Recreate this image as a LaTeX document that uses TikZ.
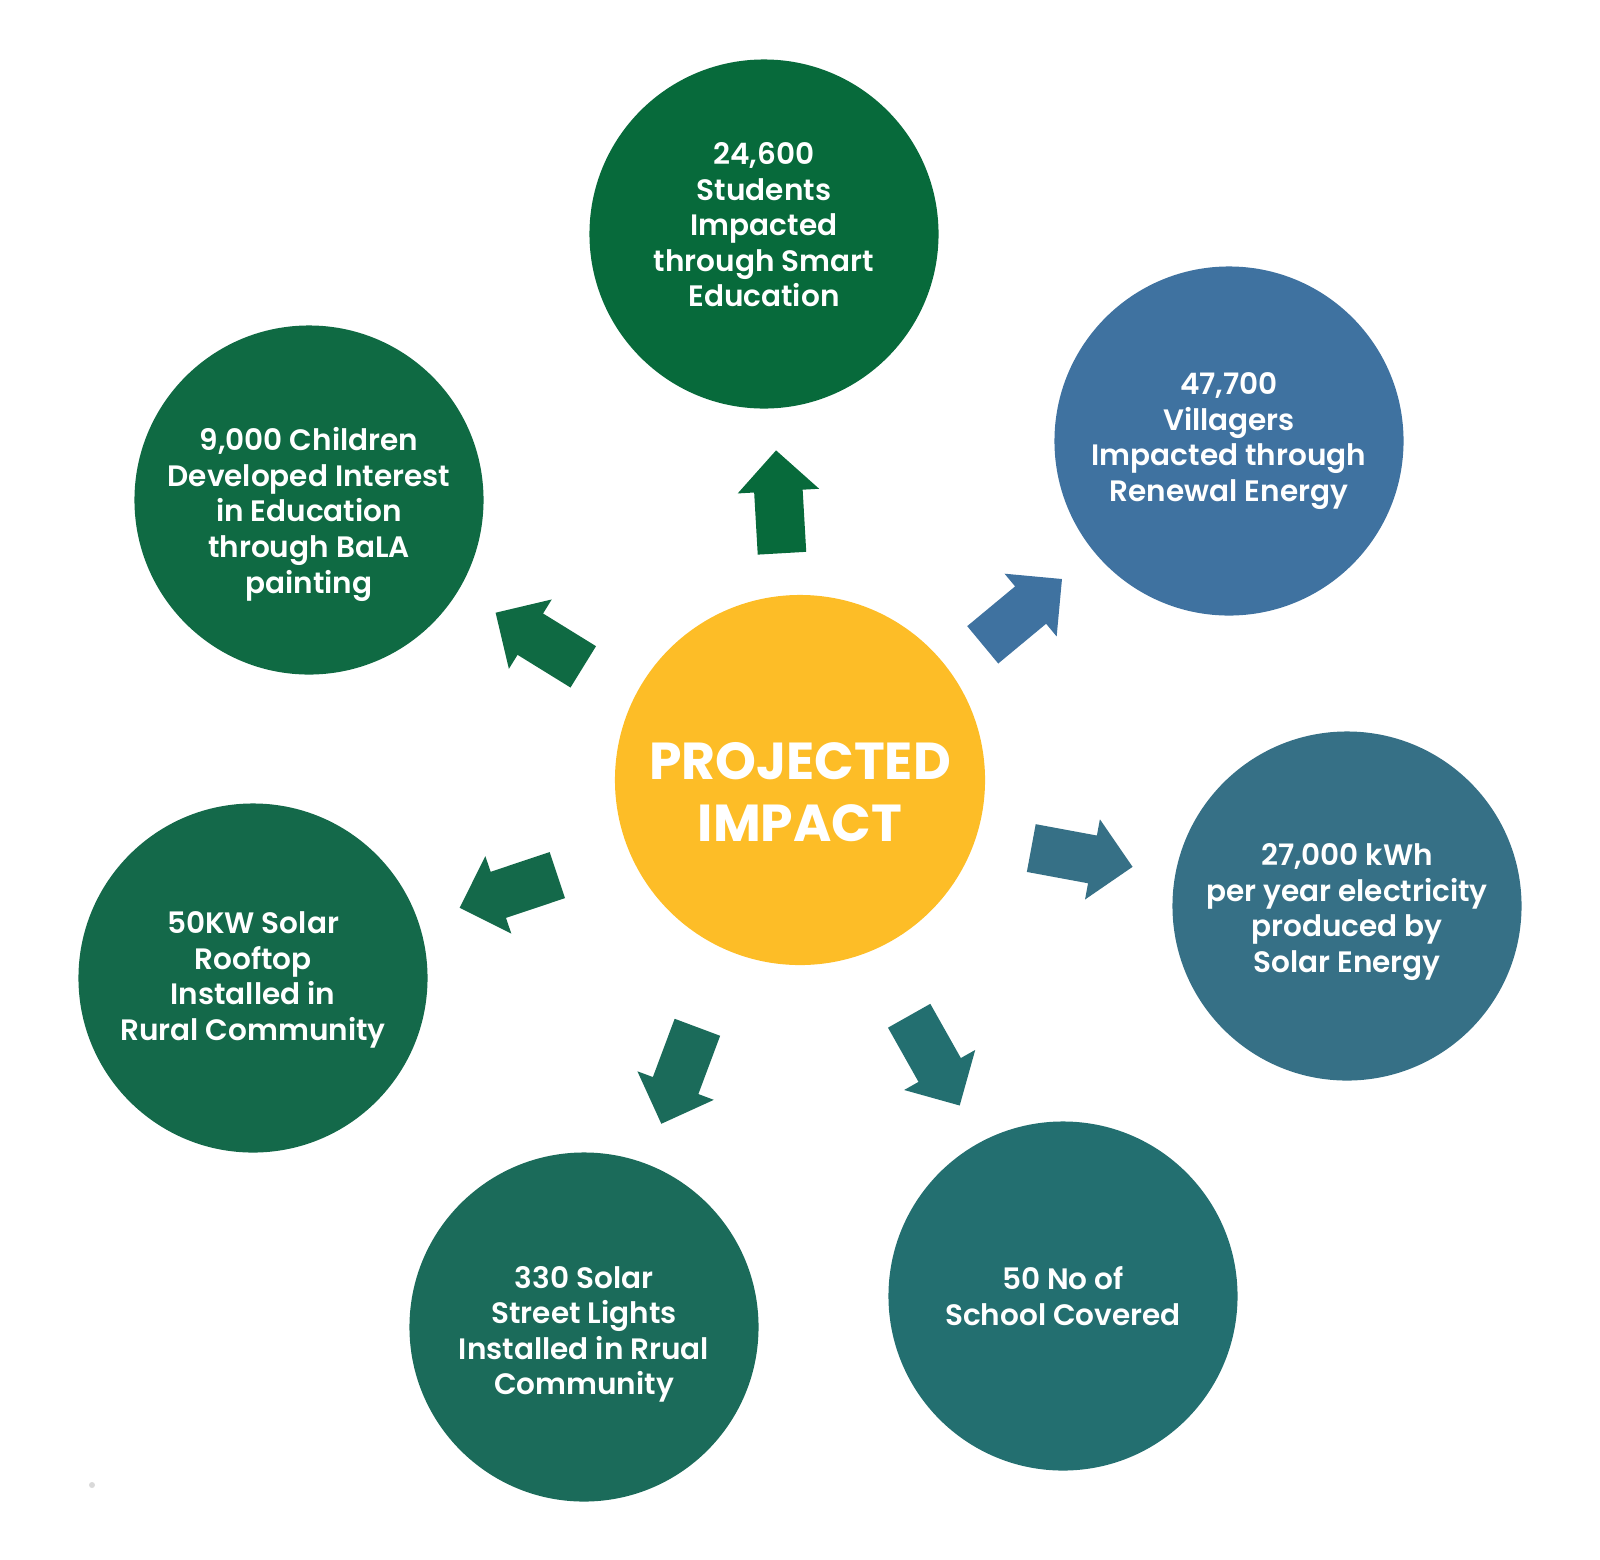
\documentclass[tikz,border=0pt]{standalone}
\usepackage{fontspec}
\setmainfont{Poppins}[BoldFont={* SemiBold}]
\newfontfamily\titlefont{Poppins}[UprightFont={* Bold}]
\usetikzlibrary{shapes.arrows}

\definecolor{sun}{HTML}{FDBD27}
\definecolor{cstud}{HTML}{076A3B}
\definecolor{cvill}{HTML}{3F72A0}
\definecolor{ckwh}{HTML}{367086}
\definecolor{cschool}{HTML}{236F70}
\definecolor{clight}{HTML}{1B6B5A}
\definecolor{croof}{HTML}{14694A}
\definecolor{cchild}{HTML}{0F6A43}
\definecolor{dotgrey}{HTML}{D9D9D9}

\begin{document}
\begin{tikzpicture}
[x=0.025cm,y=-0.025cm
,bn/.style={circle,minimum size=8.725cm,inner sep=0pt}
,bt/.style={text=white,align=center,inner sep=0pt,font=\bfseries\fontsize{21}{25.3}\selectfont}
,hub/.style={circle,fill=sun,minimum size=9.25cm,inner sep=0pt}
,hubtext/.style={text=white,align=center,font=\titlefont\fontsize{37}{43.7}\selectfont}
,ba/.style={single arrow,single arrow head extend=0.4125cm,single arrow tip angle=90,minimum height=2.575cm,inner xsep=0pt,inner ysep=0.6cm,anchor=tail}
]
\useasboundingbox (0,0) rectangle (1600,1560);
\node[hub] (proj) at (800,780) {};
\node[hubtext] (projlabel) at ([yshift=-0.3cm]proj.center) {PROJECTED\\IMPACT};
% outer circles
\node[bn,fill=cstud] (stud) at (764,234) {};
\node[bn,fill=cvill] (vill) at (1229,441) {};
\node[bn,fill=ckwh] (kwh) at (1347,906) {};
\node[bn,fill=cschool] (school) at (1063,1296) {};
\node[bn,fill=clight] (light) at (584,1327) {};
\node[bn,fill=croof] (roof) at (253,978) {};
\node[bn,fill=cchild] (child) at (309,500) {};
% their texts
\node[bt] (studtxt) at ([yshift=0.23cm]stud.center) {24,600\\Students\\Impacted\\through Smart\\Education};
\node[bt] (villtxt) at (vill.center) {47,700\\Villagers\\Impacted through\\Renewal Energy};
\node[bt] (kwhtxt) at ([yshift=-0.15cm]kwh.center) {27,000 kWh\\per year electricity\\produced by\\Solar Energy};
\node[bt] (schooltxt) at (school.center) {50 No of\\School Covered};
\node[bt] (lighttxt) at ([yshift=-0.18cm]light.center) {330 Solar\\Street Lights\\Installed in Rrual\\Community};
\node[bt] (rooftxt) at ([yshift=-0.05cm]roof.center) {50KW Solar\\Rooftop\\Installed in\\Rural Community};
\node[bt] (childtxt) at ([yshift=-0.36cm]child.center) {9,000 Children\\Developed Interest\\in Education\\through BaLA\\painting};
% block arrows
\node[ba,fill=cstud,rotate=93.3] (toStud) at (782,553.5) {};
\node[ba,fill=cvill,rotate=39.7] (toVill) at (982.5,645) {};
\node[ba,fill=ckwh,rotate=-10.5] (toKwh) at (1031,848) {};
\node[ba,fill=cschool,rotate=-60.6] (toSchool) at (909,1015.5) {};
\node[ba,fill=clight,rotate=249.5] (toLight) at (697.5,1027) {};
\node[ba,fill=croof,rotate=198.5] (toRoof) at (557.6,875) {};
\node[ba,fill=cchild,rotate=148.3] (toChild) at (583.5,667) {};
\fill[dotgrey] (92,1485) circle[radius=0.075cm];
\end{tikzpicture}
\end{document}
